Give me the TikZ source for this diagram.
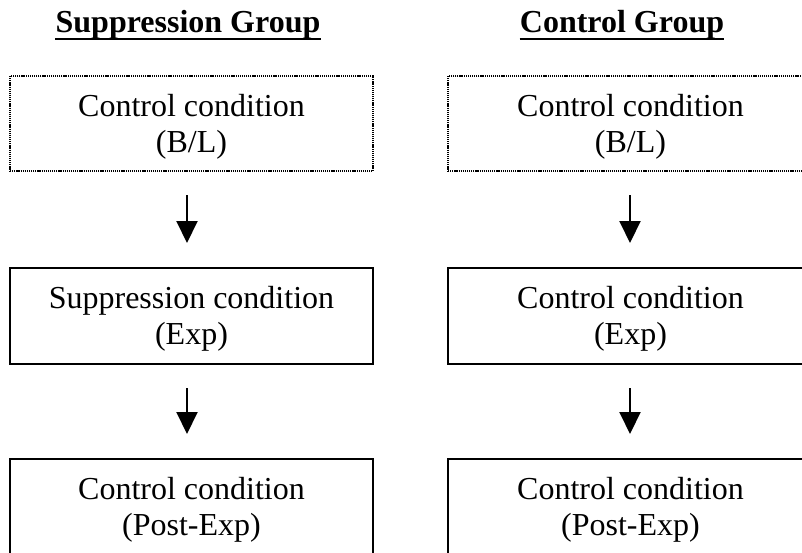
\documentclass[tikz,border=0pt]{standalone}
\usepackage{fontspec}
\setmainfont{Liberation Serif}
\usetikzlibrary{arrows.meta}
\begin{document}
\begin{tikzpicture}[x=1pt,y=-1pt,
  box/.style={draw, line width=2pt, minimum width=363pt, minimum height=95pt, inner sep=0pt},
  dotbox/.style={box, line width=2pt, dash pattern=on 1.2pt off 0.9pt},
  txt/.style={align=center, font=\fontsize{32}{36}\selectfont, inner sep=0pt},
  ttl/.style={font=\bfseries\fontsize{32}{36}\selectfont, inner sep=0pt, anchor=base},
  uline/.style={line width=2.5pt},
  arr/.style={line width=2pt, -{Triangle[length=22pt,width=21pt]}}]
\useasboundingbox (0,0) rectangle (802,552);
\clip (0,0) rectangle (802,552);
% titles
\node[ttl] (tl) at (188,32.5) {Suppression Group};
\node[ttl] (tr) at (622,32.5) {Control Group};
\draw[uline] ([yshift=-6.5pt]tl.base west) -- ([yshift=-6.5pt]tl.base east);
\draw[uline] ([yshift=-6.5pt]tr.base west) -- ([yshift=-6.5pt]tr.base east);
% left column
\node[dotbox] (l1) at (191.5,123.5) {};
\node[box, minimum height=96pt] (l2) at (191.5,316) {};
\node[box, minimum height=96pt] (l3) at (191.5,507) {};
% right column
\node[dotbox] (r1) at (629.5,123.5) {};
\node[box, minimum height=96pt] (r2) at (629.5,316) {};
\node[box, minimum height=96pt] (r3) at (629.5,507) {};
% texts
\node[txt] (l1t) at ([yshift=-3pt]l1.center) {Control condition\\(B/L)};
\node[txt] (l2t) at ([yshift=-3pt]l2.center) {Suppression condition\\(Exp)};
\node[txt] (l3t) at ([yshift=-3pt]l3.center) {Control condition\\(Post-Exp)};
\node[txt] (r1t) at ([yshift=-3pt,xshift=1pt]r1.center) {Control condition\\(B/L)};
\node[txt] (r2t) at ([yshift=-3pt,xshift=1pt]r2.center) {Control condition\\(Exp)};
\node[txt] (r3t) at ([yshift=-3pt,xshift=1pt]r3.center) {Control condition\\(Post-Exp)};
% arrows
\draw[arr] ([xshift=-4.5pt,yshift=-23pt]l1.south) -- ([xshift=-4.5pt,yshift=24pt]l2.north);
\draw[arr] ([xshift=-4.5pt,yshift=-23pt]l2.south) -- ([xshift=-4.5pt,yshift=24pt]l3.north);
\draw[arr] ([xshift=0.5pt,yshift=-23pt]r1.south) -- ([xshift=0.5pt,yshift=24pt]r2.north);
\draw[arr] ([xshift=0.5pt,yshift=-23pt]r2.south) -- ([xshift=0.5pt,yshift=24pt]r3.north);
\end{tikzpicture}
\end{document}
